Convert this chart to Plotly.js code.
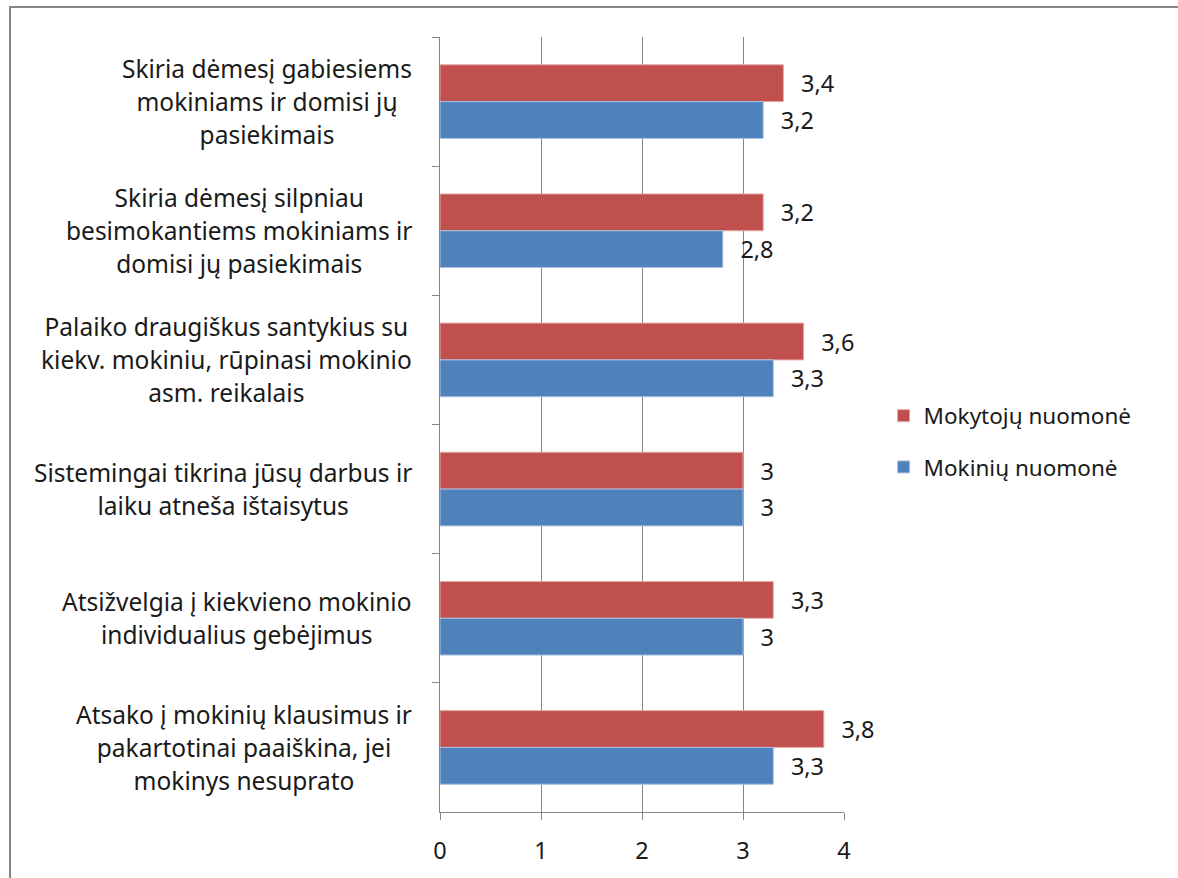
<!DOCTYPE html>
<html>
<head>
<meta charset="utf-8">
<script src="https://cdn.plot.ly/plotly-3.0.1.min.js"></script>
<style>
  html, body { margin: 0; padding: 0; background: #fff; }
  #wrap { position: relative; width: 1178px; height: 878px; }
  #chart { position: absolute; left: 0; top: 0; width: 1178px; height: 878px; }
  #frame { position: absolute; left: 9px; top: 6px; right: -10px; bottom: -10px;
           border-top: 2px solid #868686; border-left: 2px solid #868686; pointer-events: none; }
</style>
</head>
<body>
<div id="wrap">
  <div id="chart"></div>
  <div id="frame"></div>
</div>
<script>
// ---- data ----
var categoryLines = [
  ["Skiria dėmesį gabiesiems", "mokiniams ir domisi jų", "pasiekimais"],
  ["Skiria dėmesį silpniau", "besimokantiems mokiniams ir", "domisi jų pasiekimais"],
  ["Palaiko draugiškus santykius su", "kiekv. mokiniu, rūpinasi mokinio", "asm. reikalais"],
  ["Sistemingai tikrina jūsų darbus ir", "laiku atneša ištaisytus"],
  ["Atsižvelgia į kiekvieno mokinio", "individualius gebėjimus"],
  ["Atsako į mokinių klausimus ir", "pakartotinai paaiškina, jei", "mokinys nesuprato"]
];
var categories = categoryLines.map(function (l) { return l.join(" "); });
var teacherValues = [3.4, 3.2, 3.6, 3, 3.3, 3.8];
var studentValues = [3.2, 2.8, 3.3, 3, 3, 3.3];
var seriesNames = ["Mokytojų nuomonė", "Mokinių nuomonė"];
var xTicks = [0, 1, 2, 3, 4];

var FONT = "Noto Sans, Open Sans, sans-serif";
var PAD = "\u00a0\u00a0\u200a";
function fmt(v) { return PAD + String(v).replace(".", ","); }

var traces = [
  {
    type: "bar", orientation: "h", name: seriesNames[0],
    y: categories, x: teacherValues,
    text: teacherValues.map(fmt), textposition: "outside",
    textfont: { family: FONT, size: 23.5, color: "#1a1a1a" },
    constraintext: "none", cliponaxis: false,
    marker: { color: "#C0504D", line: { color: "#e3a9a7", width: 1 } },
    legendgroup: "a", hoverinfo: "x+name"
  },
  {
    type: "bar", orientation: "h", name: seriesNames[1],
    y: categories, x: studentValues,
    text: studentValues.map(fmt), textposition: "outside",
    textfont: { family: FONT, size: 23.5, color: "#1a1a1a" },
    constraintext: "none", cliponaxis: false,
    marker: { color: "#4F81BD", line: { color: "#a9c1e0", width: 1 } },
    legendgroup: "b", hoverinfo: "x+name"
  }
];

var annotations = categories.map(function (c, i) {
  return {
    xref: "paper", yref: "y", x: 0, y: c,
    xanchor: "right", yanchor: "middle", xshift: -26,
    align: "center", showarrow: false,
    text: '<span style="font-size:24.5px">' + categoryLines[i].join("<br>") + "</span>",
    font: { family: FONT, size: 25.4, color: "#1a1a1a" }
  };
});

var layout = {
  width: 1178, height: 878,
  margin: { l: 440, r: 334, t: 37, b: 66, pad: 0 },
  paper_bgcolor: "#ffffff", plot_bgcolor: "#ffffff",
  barmode: "group", bargap: 0.43, bargroupgap: 0,
  showlegend: true,
  legend: {
    x: 1.098, xanchor: "left", y: 0.478, yanchor: "middle",
    traceorder: "grouped", tracegroupgap: 19,
    font: { family: FONT, size: 22.5, color: "#1a1a1a" },
    bgcolor: "rgba(0,0,0,0)"
  },
  xaxis: {
    range: [0, 4], tickvals: xTicks, ticktext: xTicks.map(String),
    showgrid: true, gridcolor: "#868686", gridwidth: 1,
    zeroline: false, showline: true, linecolor: "#868686", linewidth: 1,
    ticks: "outside", ticklen: 7, tickcolor: "#868686",
    ticklabelstandoff: 11,
    tickfont: { family: FONT, size: 23.5, color: "#1a1a1a" },
    fixedrange: true
  },
  yaxis: {
    type: "category", autorange: "reversed",
    showticklabels: false, showgrid: false, zeroline: false,
    showline: true, linecolor: "#868686", linewidth: 1,
    ticks: "outside", ticklen: 7, tickcolor: "#868686", tickson: "boundaries",
    fixedrange: true
  },
  annotations: annotations,
  font: { family: FONT }
};

Plotly.newPlot("chart", traces, layout, { displayModeBar: false, staticPlot: true });
</script>
</body>
</html>
